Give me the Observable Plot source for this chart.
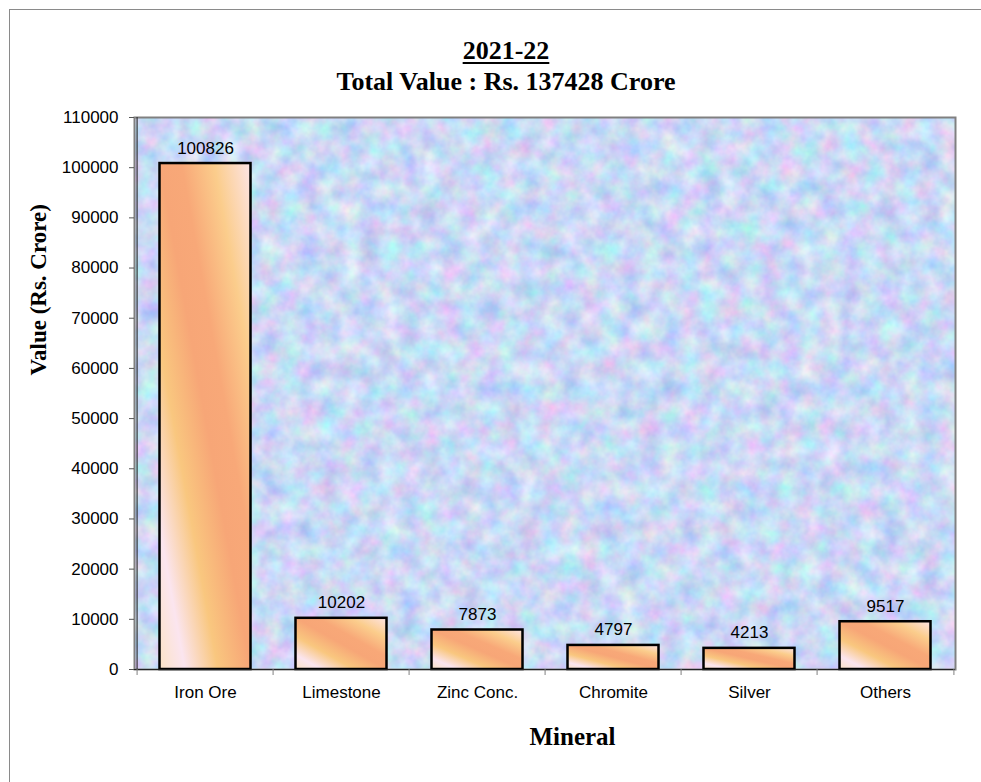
<!DOCTYPE html>
<html><head><meta charset="utf-8">
<script src="https://cdn.jsdelivr.net/npm/d3@7"></script>
<script src="https://cdn.jsdelivr.net/npm/@observablehq/plot@0.6"></script>
<style>
body{margin:0;background:#fff;width:981px;height:782px;overflow:hidden;position:relative;}
#border{position:absolute;left:9px;top:9px;width:1000px;height:800px;border:1px solid #8a8a8a;}
#title{position:absolute;left:306px;width:400px;top:35px;text-align:center;font-family:"Liberation Serif","Times New Roman",serif;font-weight:bold;font-size:26px;line-height:31px;color:#000;z-index:2;}
#title u{text-decoration-thickness:2px;text-underline-offset:3px;}
#chart{position:absolute;left:0;top:0;z-index:1;}
</style></head>
<body>
<div id="border"></div>
<div id="title"><u>2021-22</u><br>Total Value : Rs. 137428 Crore</div>
<div id="chart"></div>
<script>
const minerals = ["Iron Ore", "Limestone", "Zinc Conc.", "Chromite", "Silver", "Others"];
const values = [100826, 10202, 7873, 4797, 4213, 9517];
const yTicks = [0, 10000, 20000, 30000, 40000, 50000, 60000, 70000, 80000, 90000, 100000, 110000];
const yLabel = "Value (Rs. Crore)";
const xLabel = "Mineral";

const data = minerals.map((m, i) => ({mineral: m, value: values[i]}));
const W = 981, H = 782, ML = 134, MR = 26, MT = 117, MB = 113;
const band = (W - ML - MR) / minerals.length;

const defs = () => {
  const g = document.createElementNS("http://www.w3.org/2000/svg", "g");
  g.innerHTML = `<defs>
    <filter id="tex" x="0" y="0" width="100%" height="100%" color-interpolation-filters="sRGB">
      <feTurbulence type="fractalNoise" baseFrequency="0.05" numOctaves="4" seed="7" result="n"/>
      <feColorMatrix in="n" type="matrix" values="0.42 0 0 0 0.58  0 0.32 0 0 0.69  0 0 0.14 0 0.89  0 0 0 0 1"/>
    </filter>
    <pattern id="bgPat" patternUnits="userSpaceOnUse" x="0" y="0" width="${W}" height="${H}">
      <rect x="0" y="0" width="${W}" height="${H}" fill="#ccd4f3" filter="url(#tex)"/>
    </pattern>
    <linearGradient id="barGrad" x1="0" y1="1" x2="1" y2="0">
      <stop offset="0" stop-color="#fbe3c6"/>
      <stop offset="0.14" stop-color="#fbe5ef"/>
      <stop offset="0.32" stop-color="#f9c77f"/>
      <stop offset="0.5" stop-color="#f7a677"/>
      <stop offset="0.62" stop-color="#f8a878"/>
      <stop offset="0.8" stop-color="#fbcd8c"/>
      <stop offset="1" stop-color="#fde4e6"/>
    </linearGradient>
  </defs>`;
  return g;
};

const plot = Plot.plot({
  width: W, height: H,
  marginLeft: ML, marginRight: MR, marginTop: MT, marginBottom: MB,
  style: {fontFamily: "'Liberation Sans', Arial, sans-serif", fontSize: "17px", color: "#000", background: "transparent", overflow: "visible"},
  x: {type: "band", domain: minerals, padding: 0, label: null},
  y: {domain: [0, 110000], label: null},
  marks: [
    defs,
    Plot.frame({fill: "url(#bgPat)", stroke: "none"}),
    Plot.frame({stroke: "#808080", strokeWidth: 2}),
    Plot.barY(data, {x: "mineral", y: "value", fill: "url(#barGrad)", stroke: "#000", strokeWidth: 2.5, insetLeft: 22.5, insetRight: 22.5}),
    Plot.text(data, {x: "mineral", y: "value", text: d => String(d.value), lineAnchor: "bottom", dy: -10, fontSize: 17}),
    Plot.ruleY([0], {stroke: "#222", strokeWidth: 1.2}),
    Plot.ruleX([minerals[0]], {dx: -band / 2, y1: 0, y2: 110000, stroke: "#333", strokeWidth: 1.2}),
    Plot.axisY({ticks: yTicks, tickSize: 5, tickPadding: 11, tickFormat: d => String(d), label: null, stroke: "#555"}),
    Plot.axisX({ticks: minerals, tickSize: 6, tickFormat: () => "", dx: -band / 2, label: null, stroke: "#808080"}),
    Plot.axisX({ticks: [minerals[minerals.length - 1]], tickSize: 6, tickFormat: () => "", dx: band / 2, label: null, stroke: "#808080"}),
    Plot.axisX({tickSize: 0, tickPadding: 16, label: null}),
    Plot.text([yLabel], {frameAnchor: "left", dx: -96, dy: -18, rotate: -90, text: d => d, fontFamily: "'Liberation Serif', 'Times New Roman', serif", fontWeight: "bold", fontSize: 23}),
    Plot.text([xLabel], {frameAnchor: "bottom", dx: 27.5, dy: 75, text: d => d, fontFamily: "'Liberation Serif', 'Times New Roman', serif", fontWeight: "bold", fontSize: 25})
  ]
});
document.getElementById("chart").appendChild(plot);
</script>
</body></html>
